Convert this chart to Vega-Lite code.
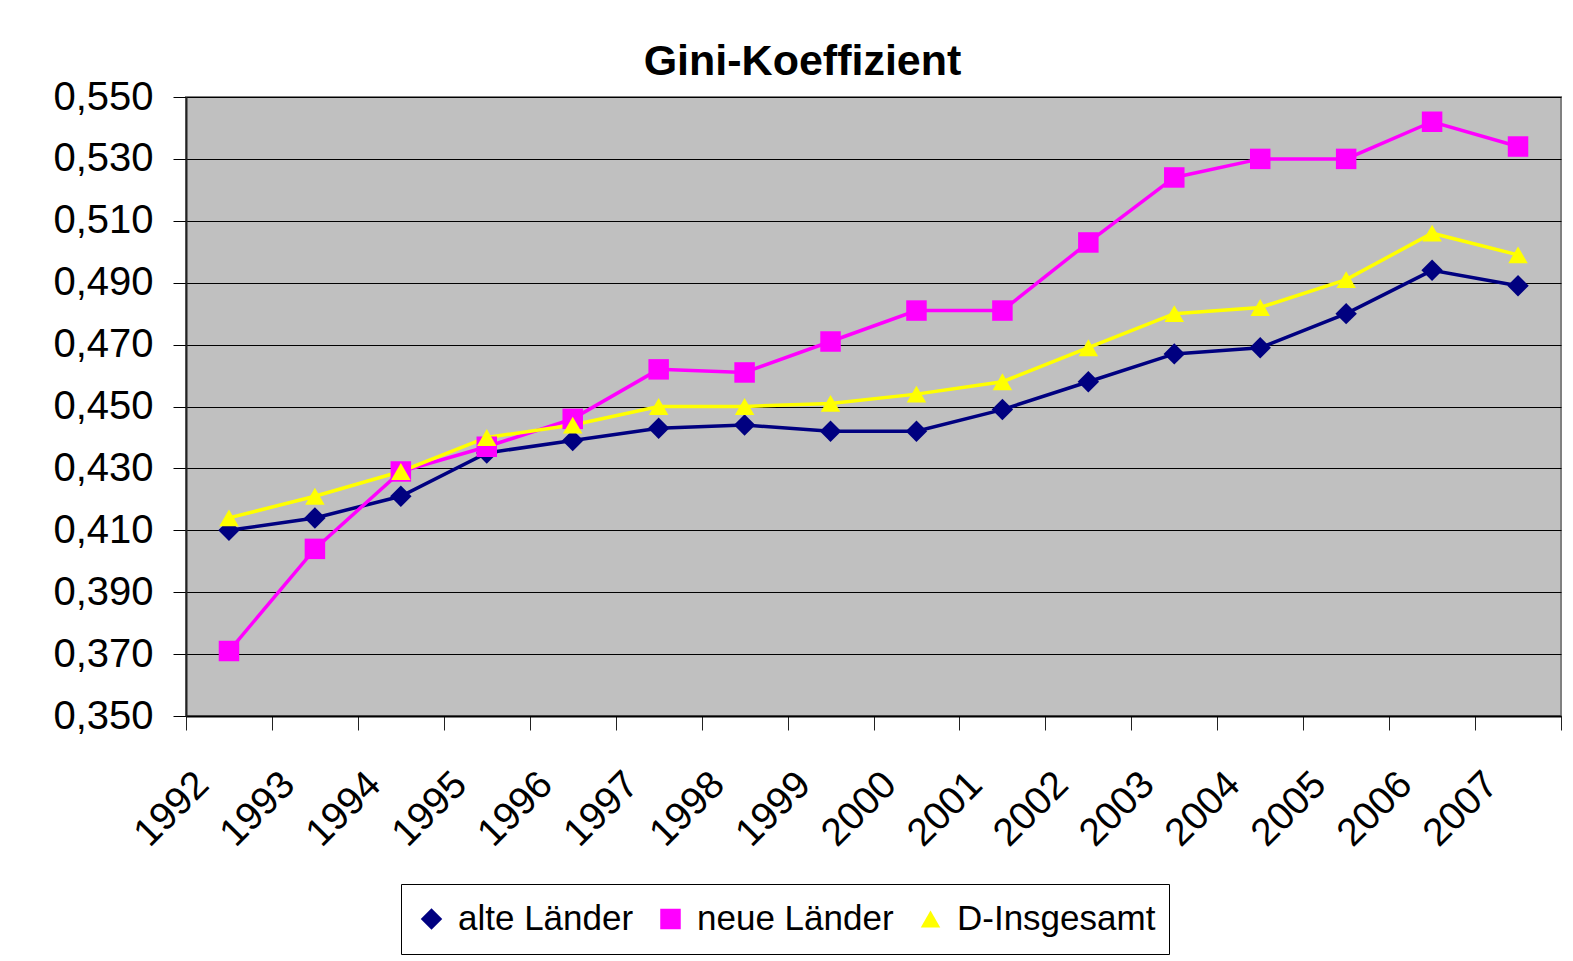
{
  "$schema": "https://vega.github.io/schema/vega-lite/v6.json",
  "autosize": "none",
  "width": 1375,
  "height": 619,
  "padding": {"left": 186, "top": 97, "right": 12, "bottom": 245},
  "background": "white",
  "title": {"text": "Gini-Koeffizient", "font": "Liberation Sans", "fontSize": 43, "fontWeight": "bold", "color": "black", "anchor": "middle", "dx": -71, "offset": -7},
  "config": {"view": {"fill": "#c0c0c0", "stroke": "#808080", "strokeWidth": 2}, "font": "Liberation Sans"},
  "data": {"values": [
    {"year": "1992", "series": "alte Länder", "value": 0.410},
    {"year": "1993", "series": "alte Länder", "value": 0.414},
    {"year": "1994", "series": "alte Länder", "value": 0.421},
    {"year": "1995", "series": "alte Länder", "value": 0.435},
    {"year": "1996", "series": "alte Länder", "value": 0.439},
    {"year": "1997", "series": "alte Länder", "value": 0.443},
    {"year": "1998", "series": "alte Länder", "value": 0.444},
    {"year": "1999", "series": "alte Länder", "value": 0.442},
    {"year": "2000", "series": "alte Länder", "value": 0.442},
    {"year": "2001", "series": "alte Länder", "value": 0.449},
    {"year": "2002", "series": "alte Länder", "value": 0.458},
    {"year": "2003", "series": "alte Länder", "value": 0.467},
    {"year": "2004", "series": "alte Länder", "value": 0.469},
    {"year": "2005", "series": "alte Länder", "value": 0.480},
    {"year": "2006", "series": "alte Länder", "value": 0.494},
    {"year": "2007", "series": "alte Länder", "value": 0.489},
    {"year": "1992", "series": "neue Länder", "value": 0.371},
    {"year": "1993", "series": "neue Länder", "value": 0.404},
    {"year": "1994", "series": "neue Länder", "value": 0.429},
    {"year": "1995", "series": "neue Länder", "value": 0.437},
    {"year": "1996", "series": "neue Länder", "value": 0.446},
    {"year": "1997", "series": "neue Länder", "value": 0.462},
    {"year": "1998", "series": "neue Länder", "value": 0.461},
    {"year": "1999", "series": "neue Länder", "value": 0.471},
    {"year": "2000", "series": "neue Länder", "value": 0.481},
    {"year": "2001", "series": "neue Länder", "value": 0.481},
    {"year": "2002", "series": "neue Länder", "value": 0.503},
    {"year": "2003", "series": "neue Länder", "value": 0.524},
    {"year": "2004", "series": "neue Länder", "value": 0.530},
    {"year": "2005", "series": "neue Länder", "value": 0.530},
    {"year": "2006", "series": "neue Länder", "value": 0.542},
    {"year": "2007", "series": "neue Länder", "value": 0.534},
    {"year": "1992", "series": "D-Insgesamt", "value": 0.414},
    {"year": "1993", "series": "D-Insgesamt", "value": 0.421},
    {"year": "1994", "series": "D-Insgesamt", "value": 0.429},
    {"year": "1995", "series": "D-Insgesamt", "value": 0.440},
    {"year": "1996", "series": "D-Insgesamt", "value": 0.444},
    {"year": "1997", "series": "D-Insgesamt", "value": 0.450},
    {"year": "1998", "series": "D-Insgesamt", "value": 0.450},
    {"year": "1999", "series": "D-Insgesamt", "value": 0.451},
    {"year": "2000", "series": "D-Insgesamt", "value": 0.454},
    {"year": "2001", "series": "D-Insgesamt", "value": 0.458},
    {"year": "2002", "series": "D-Insgesamt", "value": 0.469},
    {"year": "2003", "series": "D-Insgesamt", "value": 0.480},
    {"year": "2004", "series": "D-Insgesamt", "value": 0.482},
    {"year": "2005", "series": "D-Insgesamt", "value": 0.491},
    {"year": "2006", "series": "D-Insgesamt", "value": 0.506},
    {"year": "2007", "series": "D-Insgesamt", "value": 0.499}
  ]},
  "encoding": {
    "x": {
      "field": "year", "type": "ordinal",
      "scale": {"paddingInner": 0, "paddingOuter": 0},
      "axis": {"title": null, "labelAngle": -45, "labelAlign": "right", "labelBaseline": "middle", "labelFontSize": 39, "labelFont": "Liberation Sans", "labelColor": "black", "labelPadding": 48, "labelOffset": -27, "tickBand": "extent", "tickSize": 14, "tickColor": "#222222", "domainColor": "black", "domainWidth": 2, "grid": false}
    },
    "y": {
      "field": "value", "type": "quantitative",
      "scale": {"domain": [0.35, 0.55], "nice": false, "zero": false},
      "axis": {"title": null, "values": [0.35, 0.37, 0.39, 0.41, 0.43, 0.45, 0.47, 0.49, 0.51, 0.53, 0.55], "labelExpr": "replace(format(datum.value, '.3f'), '.', ',')", "labelFontSize": 40, "labelFont": "Liberation Sans", "labelColor": "black", "labelPadding": 20, "tickSize": 13, "tickColor": "black", "domainColor": "#222222", "domainWidth": 2, "grid": true, "gridColor": "black", "gridWidth": 1, "gridOpacity": 1}
    },
    "color": {
      "field": "series", "type": "nominal",
      "scale": {"domain": ["alte Länder", "neue Länder", "D-Insgesamt"], "range": ["#000080", "#ff00ff", "#ffff00"]},
      "legend": {
        "orient": "none", "legendX": 215, "legendY": 787, "direction": "horizontal", "title": null,
        "fillColor": "white", "strokeColor": "black", "padding": 13,
        "labelFontSize": 35, "labelFont": "Liberation Sans", "labelColor": "black", "labelOffset": 9, "labelLimit": 500,
        "columnPadding": 19, "symbolSize": 8100, "clipHeight": 44, "symbolStrokeWidth": 0
      }
    }
  },
  "layer": [
    {"mark": {"type": "line", "strokeWidth": 3.5}},
    {
      "mark": {"type": "point", "filled": true, "opacity": 1},
      "encoding": {
        "shape": {"field": "series", "type": "nominal", "scale": {"domain": ["alte Länder", "neue Länder", "D-Insgesamt"], "range": ["diamond", "square", "triangle-up"]}},
        "size": {"field": "series", "type": "ordinal", "scale": {"domain": ["alte Länder", "neue Länder", "D-Insgesamt"], "range": [460, 380, 560]}, "legend": null}
      }
    }
  ]
}
